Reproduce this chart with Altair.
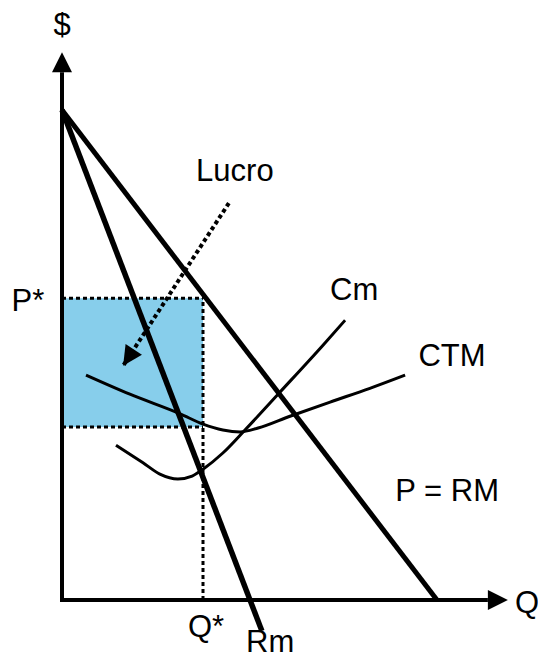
import math
import altair as alt
import pandas as pd

# ---- data (economic units: Q on x, $ on y) ----
demand_q = [0.0, 10.0]
demand_p = [10.0, 0.0]
rm_q = [0.0, 5.33]
rm_p = [10.0, -0.63]

cm_q = [1.44, 2.16, 2.61, 3.09, 3.47, 3.76, 4.29, 4.88, 5.81, 6.96, 7.55]
cm_p = [3.16, 2.80, 2.57, 2.47, 2.53, 2.67, 3.00, 3.47, 4.24, 5.20, 5.71]

ctm_q = [0.64, 1.81, 3.15, 3.76, 4.29, 4.75, 5.23, 6.08, 7.15, 8.21, 9.15]
ctm_p = [4.59, 4.20, 3.80, 3.59, 3.47, 3.43, 3.51, 3.75, 4.04, 4.32, 4.59]

q_star = 3.76
p_star = 6.16
ctm_at_q_star = 3.53

lucro_q = [4.45, 1.63]
lucro_p = [8.10, 4.78]

axis_q_tip = 11.89
axis_p_tip = 11.18

label_text = ["$", "Q", "P*", "Q*", "Rm", "Lucro", "Cm", "CTM", "P = RM"]
label_q = [0.0, 12.40, -0.91, 3.84, 5.55, 4.61, 7.79, 10.40, 10.27]
label_p = [11.72, -0.08, 6.08, -0.57, -0.87, 8.73, 6.31, 4.96, 2.20]

# ---- layout ----
W, H = 530, 651
PX_Q, PX_P = 37.5, 49.0
x_min = -54 / PX_Q
x_max = x_min + W / PX_Q
y_max = 592 / PX_P
y_min = y_max - H / PX_P

xs = alt.Scale(domain=[x_min, x_max], nice=False, zero=False)
ys = alt.Scale(domain=[y_min, y_max], nice=False, zero=False)


def X(f="q"):
    return alt.X(f, type="quantitative", scale=xs, axis=None)


def Y(f="p"):
    return alt.Y(f, type="quantitative", scale=ys, axis=None)


def line_df(qs, ps):
    return pd.DataFrame({"q": qs, "p": ps, "i": list(range(len(qs)))})


ARROW = "M0,0L-1,2L1,2Z"

# profit rectangle
rect = alt.Chart(pd.DataFrame({"q0": [0.0], "q1": [q_star], "p0": [ctm_at_q_star], "p1": [p_star]})).mark_rect(
    color="#87CEEB"
).encode(x=X("q0"), x2="q1", y=Y("p0"), y2="p1")

dot_h = alt.Chart(pd.DataFrame({"q0": [0.0, 0.0], "q1": [q_star, q_star], "p": [p_star, ctm_at_q_star]})).mark_rule(
    color="black", strokeWidth=3, strokeDash=[4, 3]
).encode(x=X("q0"), x2="q1", y=Y("p"))

dot_v = alt.Chart(pd.DataFrame({"q": [q_star], "p0": [0.0], "p1": [p_star]})).mark_rule(
    color="black", strokeWidth=3, strokeDash=[4, 3]
).encode(x=X("q"), y=Y("p0"), y2="p1")

cm = alt.Chart(line_df(cm_q, cm_p)).mark_line(color="black", strokeWidth=3, interpolate="monotone").encode(
    x=X(), y=Y(), order="i"
)
ctm = alt.Chart(line_df(ctm_q, ctm_p)).mark_line(color="black", strokeWidth=3, interpolate="monotone").encode(
    x=X(), y=Y(), order="i"
)
demand = alt.Chart(line_df(demand_q, demand_p)).mark_line(color="black", strokeWidth=5).encode(
    x=X(), y=Y(), order="i"
)
rm = alt.Chart(line_df(rm_q, rm_p)).mark_line(color="black", strokeWidth=5.5).encode(
    x=X(), y=Y(), order="i"
)

# axes with arrows
ax_y = alt.Chart(pd.DataFrame({"q": [0.0], "p0": [-0.04], "p1": [axis_p_tip - 20 / PX_P]})).mark_rule(
    color="black", strokeWidth=4
).encode(x=X("q"), y=Y("p0"), y2="p1")
ax_x = alt.Chart(pd.DataFrame({"q0": [-0.05], "q1": [axis_q_tip - 20 / PX_Q], "p": [0.0]})).mark_rule(
    color="black", strokeWidth=4
).encode(x=X("q0"), x2="q1", y=Y("p"))

dx = (lucro_q[1] - lucro_q[0]) * PX_Q
dy = -(lucro_p[1] - lucro_p[0]) * PX_P
lucro_angle = math.degrees(math.atan2(dx, -dy)) % 360

heads = pd.DataFrame({
    "q": [0.0, axis_q_tip, lucro_q[1]],
    "p": [axis_p_tip, 0.0, lucro_p[1]],
    "a": [0.0, 90.0, lucro_angle],
    "s": [400, 400, 380],
})
arrowheads = alt.Chart(heads).mark_point(shape=ARROW, filled=True, color="black", opacity=1, strokeWidth=0).encode(
    x=X(), y=Y(), angle=alt.Angle("a:Q", scale=None), size=alt.Size("s:Q", scale=None)
)

lucro_line = alt.Chart(line_df(lucro_q, lucro_p)).mark_line(color="black", strokeWidth=4, strokeDash=[4, 3]).encode(
    x=X(), y=Y(), order="i"
)

labels = alt.Chart(pd.DataFrame({"t": label_text, "q": label_q, "p": label_p})).mark_text(
    font="Liberation Sans", fontSize=31, color="black", align="center", baseline="middle"
).encode(x=X(), y=Y(), text="t:N")

chart = alt.layer(
    rect, dot_h, dot_v, cm, ctm, demand, rm, ax_y, ax_x, lucro_line, arrowheads, labels
).properties(
    width=W, height=H, padding=0, autosize=alt.AutoSizeParams(type="none")
).configure_view(strokeWidth=0)

chart.save("out.html", embed_options={"renderer": "svg", "actions": False})
